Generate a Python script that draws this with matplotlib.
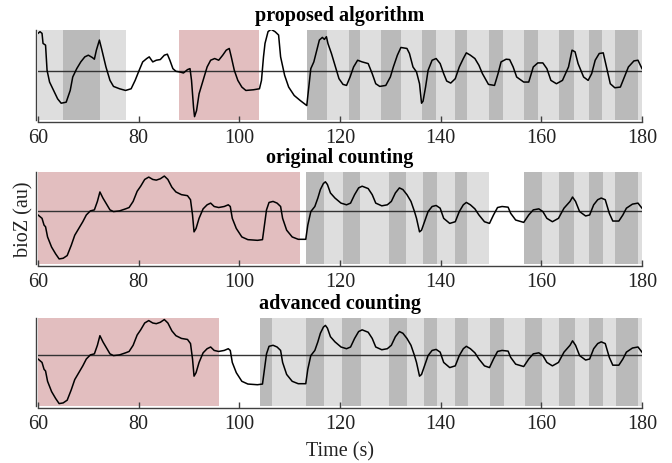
import matplotlib
matplotlib.use("Agg")
import matplotlib.pyplot as plt

plt.rcParams['font.family'] = ['Liberation Serif', 'DejaVu Serif']

# ---------------- data ----------------
titles = ["proposed algorithm", "original counting", "advanced counting"]
xticks = [60, 80, 100, 120, 140, 160, 180]
baseline = 0.0

# panel 1 signal (proposed algorithm, detrended bioZ)
t1 = [60.0, 60.4, 60.8, 61.0, 61.5, 61.8, 62.3, 63.1, 63.9, 64.6, 65.6, 66.4, 66.9, 67.7, 68.5,
      69.3, 70.0, 70.8, 71.2, 71.6, 72.2, 72.7, 73.5, 74.3, 75.0, 76.2, 77.4, 78.5, 79.3, 80.1,
      80.8, 81.6, 82.1, 82.8, 83.5, 84.3, 85.1, 85.7, 86.2, 86.8, 87.4, 88.2, 88.9, 89.7, 90.2,
      90.5, 90.9, 91.1, 91.5, 92.0, 92.8, 93.6, 94.3, 95.1, 95.9, 96.7, 97.4, 98.0, 98.4, 99.0,
      99.7, 100.5, 101.3, 102.8, 104.0, 104.4, 104.8, 105.1, 105.7, 106.3, 107.1, 107.8, 108.2,
      109.0, 109.8, 110.9, 112.1, 113.4, 113.8, 114.2, 114.8, 115.4, 115.9, 116.5, 116.9, 117.3,
      117.6, 118.3, 119.0, 119.8, 120.6, 121.3, 122.0, 122.7, 123.5, 124.4, 125.6, 126.4, 127.1,
      127.9, 129.1, 130.0, 130.6, 131.4, 132.1, 133.3, 133.8, 134.5, 135.2, 135.8, 136.2, 136.5,
      137.0, 137.5, 138.3, 139.1, 139.9, 140.6, 141.2, 142.0, 142.9, 143.7, 144.5, 145.1, 145.9,
      146.8, 147.6, 148.3, 149.5, 150.7, 151.4, 152.0, 153.0, 153.7, 154.4, 155.1, 156.5, 157.5,
      158.4, 159.3, 160.3, 161.1, 161.9, 163.0, 164.2, 165.4, 166.1, 166.7, 167.3, 168.4, 169.3,
      170.0, 170.7, 171.5, 172.3, 173.1, 173.7, 174.6, 175.7, 176.5, 177.3, 178.4, 179.2, 180.0]
y1 = [1.12, 1.17, 1.12, 0.82, 0.77, 0.02, -0.33, -0.58, -0.83, -0.96, -0.93, -0.58, -0.18, 0.07, 0.27,
      0.42, 0.47, 0.40, 0.35, 0.62, 0.92, 0.62, 0.12, -0.28, -0.46, -0.53, -0.58, -0.53, -0.28, 0.02,
      0.27, 0.37, 0.42, 0.27, 0.32, 0.34, 0.47, 0.50, 0.32, 0.07, -0.01, -0.03, -0.06, 0.04, 0.07,
      -0.28, -1.08, -1.36, -1.18, -0.68, -0.28, 0.12, 0.32, 0.37, 0.32, 0.47, 0.62, 0.67, 0.42, 0.02,
      -0.28, -0.48, -0.58, -0.56, -0.53, -0.28, 0.42, 0.82, 1.17, 1.24, 1.17, 1.07, 0.42,
      -0.13, -0.48, -0.73, -0.88, -1.03, -0.48, 0.07, 0.27, 0.62, 0.92, 1.00, 0.94, 1.02,
      0.82, 0.52, 0.17, -0.23, -0.40, -0.43, -0.18, 0.12, 0.32, 0.27, 0.22, -0.08, -0.38,
      -0.46, -0.43, -0.18, 0.12, 0.47, 0.70, 0.67, 0.52, 0.12, -0.03, -0.38, -0.96, -0.90,
      -0.48, 0.02, 0.32, 0.37, 0.22, -0.08, -0.30, -0.36, -0.23, 0.12, 0.37, 0.54, 0.47,
      0.37, 0.17, -0.08, -0.40, -0.43, -0.08, 0.27, 0.35, 0.34, 0.12, -0.18, -0.33, -0.33,
      0.12, 0.24, 0.24, 0.07, -0.28, -0.38, -0.28, 0.12, 0.62, 0.57, 0.22, -0.18, -0.28,
      -0.08, 0.32, 0.52, 0.54, 0.02, -0.38, -0.50, -0.48, -0.18, 0.12, 0.30, 0.32, 0.07]

# panels 2 and 3 signal (raw bioZ)
t2 = [60.0, 60.4, 60.8, 61.2, 61.5, 61.9, 62.7, 63.5, 64.2, 65.0, 65.8, 66.6, 67.3, 68.1, 68.9,
      69.6, 70.4, 71.2, 71.8, 72.3, 72.9, 73.5, 74.3, 75.0, 76.2, 77.4, 78.1, 78.9, 79.7, 80.4,
      81.2, 82.0, 82.8, 83.5, 84.3, 85.1, 85.8, 86.6, 87.4, 88.5, 89.7, 90.3, 90.7, 91.0, 91.4,
      92.0, 92.8, 93.6, 94.3, 95.0, 95.9, 97.0, 97.8, 98.2, 98.6, 99.4, 100.5, 101.7, 103.6,
      104.6, 105.0, 105.4, 105.9, 106.7, 107.5, 108.2, 108.6, 109.4, 110.5, 111.7, 113.2, 113.6,
      114.2, 115.0, 115.6, 116.1, 116.7, 117.1, 117.5, 118.1, 119.0, 120.2, 121.3, 122.1, 122.9,
      123.7, 124.4, 125.6, 126.4, 127.1, 128.3, 129.4, 130.2, 131.0, 131.8, 132.5, 133.3, 134.1,
      134.8, 135.2, 135.8, 136.2, 136.8, 137.5, 138.3, 139.1, 139.9, 140.6, 141.8, 142.9, 143.7,
      144.5, 145.1, 145.9, 146.8, 147.6, 148.7, 149.7, 150.5, 151.3, 152.2, 153.4, 153.9, 154.9,
      156.5, 157.5, 158.4, 159.5, 160.3, 161.1, 162.2, 163.4, 164.5, 165.7, 166.2, 166.8, 167.6,
      168.8, 169.6, 170.4, 171.2, 171.9, 172.7, 173.5, 174.2, 175.4, 176.2, 176.9, 178.1, 179.2, 180.0]
y2 = [-0.13, -0.18, -0.23, -0.43, -0.48, -0.78, -1.08, -1.28, -1.43, -1.41, -1.33, -1.03, -0.73, -0.53, -0.33,
      -0.13, -0.01, 0.02, 0.27, 0.55, 0.37, 0.22, 0.02, -0.03, -0.01, 0.05, 0.09, 0.27, 0.57, 0.72,
      0.92, 0.99, 0.92, 0.90, 0.94, 1.02, 0.92, 0.69, 0.55, 0.47, 0.44, 0.32, -0.13, -0.63, -0.53,
      -0.23, 0.05, 0.17, 0.22, 0.12, 0.09, 0.12, 0.17, 0.12, -0.23, -0.53, -0.78, -0.86, -0.88,
      -0.86, -0.43, 0.02, 0.24, 0.27, 0.22, 0.12, -0.23, -0.58, -0.78, -0.85, -0.85, -0.43,
      -0.03, 0.12, 0.37, 0.62, 0.80, 0.85, 0.77, 0.52, 0.37, 0.22, 0.17, 0.22, 0.47,
      0.67, 0.72, 0.65, 0.47, 0.22, 0.14, 0.17, 0.27, 0.52, 0.67, 0.62, 0.47, 0.27,
      -0.03, -0.23, -0.63, -0.58, -0.33, -0.03, 0.12, 0.15, 0.07, -0.23, -0.38, -0.33, -0.03,
      0.17, 0.24, 0.17, 0.05, -0.13, -0.33, -0.38, -0.13, 0.09, 0.12, 0.10, -0.08, -0.28,
      -0.35, -0.13, 0.02, 0.05, -0.03, -0.23, -0.33, -0.23, 0.07, 0.27, 0.40, 0.27, -0.03,
      -0.16, -0.13, 0.17, 0.32, 0.37, 0.32, -0.08, -0.31, -0.31, -0.13, 0.07, 0.19, 0.22, 0.07]

# shaded intervals (s)
light1 = [(60.0, 77.5), (113.4, 180.0)]
dark1 = [(65.0, 72.3), (113.4, 117.4), (121.7, 124.0), (128.2, 132.2), (136.3, 139.1), (142.8, 145.2),
         (149.7, 152.4), (156.6, 159.4), (163.6, 166.5), (169.4, 172.1), (174.7, 179.2)]
red1 = [(88.0, 104.0)]

light2 = [(113.2, 149.7), (156.5, 180.0)]
dark2 = [(113.2, 116.8), (120.5, 124.0), (129.7, 133.2), (136.5, 139.2), (142.8, 145.3),
         (156.6, 160.1), (163.6, 166.5), (169.4, 172.2), (174.7, 179.2)]
red2 = [(60.0, 112.0)]

light3 = [(104.2, 180.0)]
dark3 = [(104.2, 106.4), (113.2, 116.8), (120.4, 124.1), (129.7, 133.3), (136.6, 139.2), (142.8, 145.4),
         (149.8, 152.5), (156.7, 160.1), (163.6, 166.6), (169.4, 172.2), (174.8, 179.2)]
red3 = [(60.0, 96.0)]

ylims = [(-1.46, 1.22), (-1.58, 1.14), (-1.50, 1.08)]

# ---------------- plot ----------------
LIGHT = '#dedede'
DARK = '#bababa'
RED = '#e2bebf'
AX = '#404040'
FS = 14.5

W, H = 672, 464
fig = plt.figure(figsize=(W / 100, H / 100), dpi=100)
boxes = [(38, 31, 121), (38, 173, 265), (38, 318.5, 407)]

panels = [
    (t1, y1, light1, dark1, red1),
    (t2, y2, light2, dark2, red2),
    (t2, y2, light3, dark3, red3),
]

axes = []
for i, ((left, top, bottom), (t, y, lt, dk, rd)) in enumerate(zip(boxes, panels)):
    ax = fig.add_axes([left / W, 1 - bottom / H, 604 / W, (bottom - top) / H])
    for a, b in lt:
        ax.axvspan(a, b, color=LIGHT, lw=0, zorder=0)
    for a, b in dk:
        ax.axvspan(a, b, color=DARK, lw=0, zorder=1)
    for a, b in rd:
        ax.axvspan(a, b, color=RED, lw=0, zorder=1)
    ax.axhline(baseline, color='#333333', lw=1.0, zorder=2)
    ax.plot(t, y, color='black', lw=1.1, zorder=3)
    ax.set_xlim(60, 180)
    ax.set_ylim(*ylims[i])
    ax.set_xticks(xticks)
    ax.set_xticklabels([str(v) for v in xticks])
    ax.set_yticks([])
    for s in ['top', 'right']:
        ax.spines[s].set_visible(False)
    for s in ['left', 'bottom']:
        ax.spines[s].set_color(AX)
        ax.spines[s].set_linewidth(1.0)
        ax.spines[s].set_position(('outward', 1.5))
    ax.tick_params(axis='x', direction='in', length=4, width=1.0, color=AX, pad=4,
                   labelsize=FS, labelcolor='#222222')
    ax.set_title(titles[i], fontsize=FS, fontweight='bold', pad=7)
    axes.append(ax)

axes[1].set_ylabel('bioZ (au)', fontsize=FS, labelpad=2, color='#222222')
axes[2].set_xlabel('Time (s)', fontsize=FS, labelpad=6, color='#222222')

fig.savefig('out.png', dpi=100)
